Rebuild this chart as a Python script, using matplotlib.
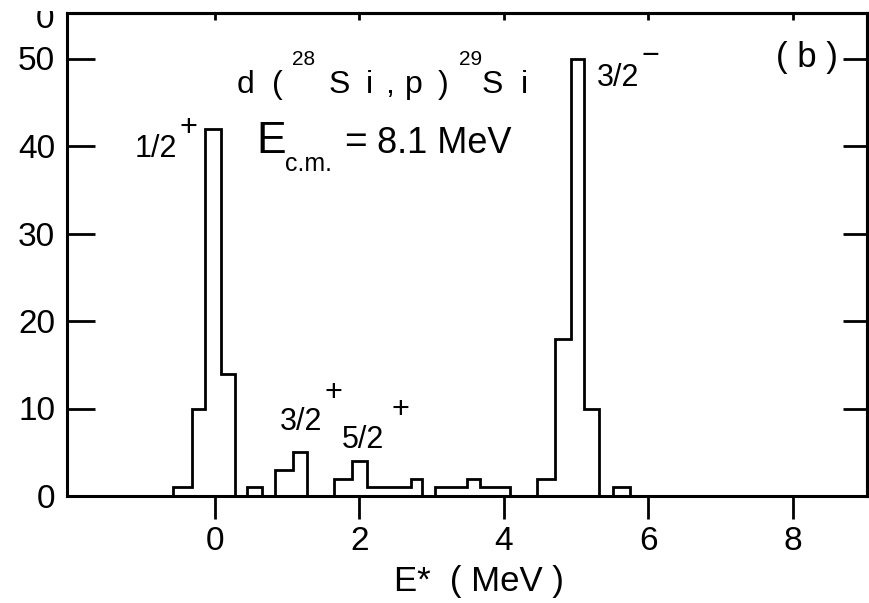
import matplotlib
matplotlib.use("Agg")
import matplotlib.pyplot as plt
from matplotlib.transforms import Bbox

plt.rcParams["font.family"] = ["Liberation Sans", "DejaVu Sans"]

# Excitation-energy bin edges (MeV) and the counts in each bin
bin_edges = [-0.58, -0.32, -0.14, 0.08, 0.28, 0.44, 0.65, 0.83, 1.08, 1.27,
             1.65, 1.90, 2.11, 2.71, 2.87, 3.05, 3.49, 3.67, 4.09, 4.46,
             4.71, 4.93, 5.11, 5.32, 5.51, 5.75]
counts = [1, 10, 42, 14, 0, 1, 0, 3, 5, 0,
          2, 4, 1, 2, 0, 1, 2, 1, 0, 2,
          18, 50, 10, 0, 1]

x_ticks = [0, 2, 4, 6, 8]
y_ticks = [0, 10, 20, 30, 40, 50]

# Spin-parity assignments of the populated states
level_spins = ["1/2", "3/2", "5/2", "3/2"]
level_parities = ["+", "+", "+", "\u2212"]

W, H = 869, 603
fig = plt.figure(figsize=(W / 100, H / 100), dpi=100)
ax = fig.add_axes([67 / W, 1 - 496 / H, (867 - 67) / W, (496 - 13) / H])


def fx(px):
    return px / W


def fy(py):
    return 1 - py / H


ax.stairs(counts, bin_edges, color="black", linewidth=2.0)

ax.set_xlim(-2.05, 9.03)
ax.set_ylim(0, 55.2)
ax.set_xticks(x_ticks)
ax.set_yticks(y_ticks)
ax.set_xticklabels([str(v) for v in x_ticks])
ax.set_yticklabels([str(v) for v in y_ticks])

for sp in ax.spines.values():
    sp.set_linewidth(2.2)
    sp.set_color("black")

ax.tick_params(axis="x", direction="out", length=16.5, width=2.0,
               labelsize=24, pad=5)
ax.tick_params(axis="y", direction="in", length=20, width=2.0,
               labelsize=24, pad=8.5)

top = ax.secondary_xaxis("top")
top.set_xticks(x_ticks)
top.tick_params(direction="in", length=5, width=2.0, labeltop=False)
top.spines["top"].set_linewidth(2.2)

right = ax.secondary_yaxis("right")
right.set_yticks(y_ticks)
right.tick_params(direction="in", length=17, width=2.0, labelright=False)
right.spines["right"].set_linewidth(2.2)

ax.set_xlabel("E*  ( MeV )", fontsize=25)
ax.xaxis.set_label_coords((479 - 67) / 800, (496 - 565) / 483)

# Reaction and energy
line1 = [("d", 237, 93, 23), ("(", 272, 93, 23), ("28", 292, 65, 15),
         ("S", 329, 93, 23), ("i", 366, 93, 23), (",", 385, 93, 23),
         ("p", 405, 93, 23), (")", 438, 93, 23), ("29", 459, 65, 15),
         ("S", 482, 93, 23), ("i", 521, 93, 23)]
for s, x, y, size in line1:
    fig.text(fx(x), fy(y), s, fontsize=size, ha="left", va="baseline")

fig.text(fx(256), fy(153), "E", fontsize=32, ha="left", va="baseline")
fig.text(fx(285), fy(171), "c.m.", fontsize=18, ha="left", va="baseline")
fig.text(fx(344), fy(153), "=", fontsize=28, ha="left", va="baseline")
fig.text(fx(377), fy(153), "8.1 MeV", fontsize=26, ha="left", va="baseline")

fig.text(fx(776), fy(58), "( b )", fontsize=25, ha="left", va="center")

# State labels next to the peaks
spin_pos = [(177, 157, "right"), (280, 430, "left"), (342, 448, "left"),
            (597, 86, "left")]
parity_pos = [(188, 128), (333, 393), (400, 410), (650, 56)]
for spin, par, (sx, sy, ha), (px, py) in zip(level_spins, level_parities,
                                             spin_pos, parity_pos):
    fig.text(fx(sx), fy(sy), spin, fontsize=22, ha=ha, va="baseline")
    fig.text(fx(px), fy(py), par, fontsize=22, ha="center", va="center")

# Bottom of the neighbouring panel's axis label, cut by the page edge
t = fig.text(fx(45), fy(28), "0", fontsize=24, ha="center", va="baseline")
t.set_clip_box(Bbox([[0, 0], [W, H - 11]]))
t.set_clip_on(True)

fig.savefig("out.png", dpi=100)
